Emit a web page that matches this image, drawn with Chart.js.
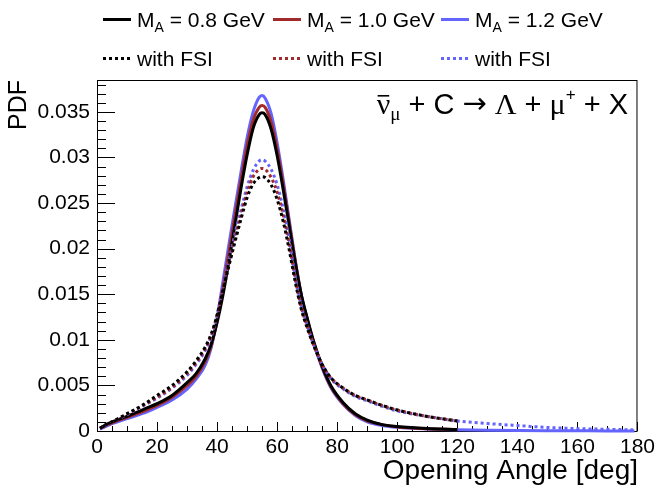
<!DOCTYPE html>
<html><head><meta charset="utf-8">
<script src="https://cdn.jsdelivr.net/npm/chart.js@4/dist/chart.umd.min.js"></script>
<style>html,body{margin:0;padding:0;background:#fff}#c{display:block}</style>
</head><body>
<canvas id="c" width="659" height="489"></canvas>
<script>
// Opening angle [deg]
const angles = [1, 3, 5, 10, 15, 20, 25, 30, 33, 36, 38, 40, 42, 44, 46, 48, 50, 52, 54, 55, 56, 58, 60, 62, 64, 66, 68, 70, 72, 75, 78, 82, 86, 90, 95, 100, 110, 120, 130, 140, 150, 160, 170, 179];
// PDF values, no FSI
const ma08 = [0.0003, 0.0007, 0.0010, 0.0016, 0.0023, 0.0030, 0.0039, 0.0053, 0.0063, 0.0079, 0.0095, 0.0119, 0.0150, 0.0187, 0.0227, 0.0267, 0.0303, 0.0332, 0.0347, 0.0349, 0.0347, 0.0331, 0.0302, 0.0265, 0.0225, 0.0185, 0.0150, 0.0124, 0.0100, 0.0071, 0.0049, 0.0031, 0.0019, 0.0012, 0.0007, 0.0005, 0.00028, 0.00017, null, null, null, null, null, null];
const ma10 = [0.0003, 0.0006, 0.0009, 0.0015, 0.0021, 0.0028, 0.0037, 0.0050, 0.0060, 0.0076, 0.0093, 0.0121, 0.0158, 0.0197, 0.0237, 0.0276, 0.0313, 0.0341, 0.0355, 0.0357, 0.0355, 0.0339, 0.0309, 0.0271, 0.0229, 0.0187, 0.0150, 0.0123, 0.0099, 0.0070, 0.0048, 0.0030, 0.0018, 0.0011, 0.0007, 0.00045, 0.00025, 0.00015, null, null, null, null, null, null];
const ma12 = [0.0002, 0.0005, 0.0008, 0.00135, 0.0019, 0.0026, 0.0034, 0.0046, 0.0057, 0.0072, 0.0091, 0.0124, 0.0165, 0.0206, 0.0246, 0.0285, 0.0322, 0.0350, 0.0366, 0.0368, 0.0365, 0.0348, 0.0316, 0.0276, 0.0232, 0.0188, 0.0150, 0.0122, 0.0098, 0.0069, 0.0047, 0.0029, 0.0017, 0.0010, 0.0006, 0.0004, 0.00022, 0.00013, 0.00008, 0.00005, 0.00003, 0.00002, 0.00001, 0.0];
// PDF values, with FSI
const ma08fsi = [0.0003, 0.0007, 0.0010, 0.0019, 0.0028, 0.0039, 0.0050, 0.0065, 0.0077, 0.0092, 0.0106, 0.0127, 0.0155, 0.0182, 0.0208, 0.0233, 0.0256, 0.0271, 0.0278, 0.0279, 0.0278, 0.0270, 0.0254, 0.0230, 0.0199, 0.0164, 0.0134, 0.0113, 0.0095, 0.0073, 0.0058, 0.0047, 0.0039, 0.0034, 0.0028, 0.0023, 0.0016, 0.0011, null, null, null, null, null, null];
const ma10fsi = [0.0003, 0.0007, 0.0010, 0.00185, 0.00275, 0.0037, 0.0048, 0.0063, 0.0075, 0.0090, 0.0104, 0.0127, 0.0157, 0.0185, 0.0212, 0.0238, 0.0262, 0.0279, 0.0287, 0.0288, 0.0287, 0.0278, 0.0262, 0.0237, 0.0205, 0.0167, 0.0136, 0.0115, 0.0096, 0.0073, 0.0058, 0.0047, 0.0039, 0.0034, 0.0028, 0.0023, 0.0016, 0.0011, null, null, null, null, null, null];
const ma12fsi = [0.0003, 0.0006, 0.0010, 0.0018, 0.0027, 0.0036, 0.0047, 0.0061, 0.0073, 0.0088, 0.0103, 0.0127, 0.0160, 0.0188, 0.0217, 0.0243, 0.0268, 0.0286, 0.0296, 0.02975, 0.0296, 0.0287, 0.0270, 0.0244, 0.0210, 0.0170, 0.0138, 0.0116, 0.0096, 0.0073, 0.0057, 0.0046, 0.0038, 0.0033, 0.0027, 0.0022, 0.0016, 0.0011, 0.00082, 0.00060, 0.00039, 0.00026, 0.00019, 0.00012];
// Axis ticks
const xTicks = [0, 20, 40, 60, 80, 100, 120, 140, 160, 180];
const yTicks = [0, 0.005, 0.01, 0.015, 0.02, 0.025, 0.03, 0.035];
const legendLabels = ['0.8', '1.0', '1.2'];

const BLACK = '#000000', RED = '#a32a2a', BLUE = '#6464ff';
const SANS = '"Liberation Sans", Arial, Helvetica, sans-serif';
const SERIF = '"Liberation Serif", "Times New Roman", serif';

function pts(arr) { return angles.map((a, i) => ({x: a, y: arr[i]})); }
function ds(label, arr, color, dotted) {
  return {
    label, data: pts(arr), borderColor: color, backgroundColor: color,
    borderWidth: 3, borderDash: dotted ? [3, 3] : [], pointRadius: 0,
    cubicInterpolationMode: 'monotone', spanGaps: false, fill: false, clip: 4,
    borderCapStyle: 'butt'
  };
}

const framePlugin = {
  id: 'frame',
  beforeDatasetsDraw(chart) {
    const {ctx, chartArea: a, scales: {x, y}} = chart;
    ctx.save();
    ctx.strokeStyle = '#000';
    ctx.lineWidth = 1;
    ctx.strokeRect(a.left + 0.5, a.top + 0.5, a.right - a.left - 1, a.bottom - a.top);
    ctx.beginPath();
    for (let v = 0; v <= 180; v += 5) {
      const px = Math.round(x.getPixelForValue(v)) + 0.5;
      const len = (v % 20 === 0) ? 9 : 5;
      ctx.moveTo(px, a.bottom); ctx.lineTo(px, a.bottom - len);
    }
    for (let k = 0; k <= 38; k++) {
      const v = k * 0.001;
      const py = Math.round(y.getPixelForValue(v)) + 0.5;
      const len = (k % 5 === 0) ? 18 : 9;
      ctx.moveTo(a.left, py); ctx.lineTo(a.left + len, py);
    }
    ctx.stroke();
    ctx.restore();
  },
  afterDraw(chart) {
    const {ctx, chartArea: a} = chart;
    ctx.save();
    ctx.fillStyle = '#000';
    // Y title
    ctx.save();
    ctx.translate(19, a.top);
    ctx.rotate(-Math.PI / 2);
    ctx.font = '25px ' + SANS;
    ctx.textAlign = 'right';
    ctx.textBaseline = 'middle';
    ctx.fillText('PDF', 0, 0);
    ctx.restore();
    // X title
    ctx.font = '28px ' + SANS;
    ctx.textAlign = 'right';
    ctx.textBaseline = 'alphabetic';
    ctx.fillText('Opening Angle [deg]', 638, 479);

    // Legend
    const colors = [BLACK, RED, BLUE];
    const lx = [103, 273, 441];
    for (let i = 0; i < 3; i++) {
      ctx.strokeStyle = colors[i];
      ctx.lineWidth = 3;
      ctx.setLineDash([]);
      ctx.beginPath(); ctx.moveTo(lx[i], 19.5); ctx.lineTo(lx[i] + 28, 19.5); ctx.stroke();
      ctx.setLineDash([3, 3]);
      ctx.beginPath(); ctx.moveTo(lx[i], 58.5); ctx.lineTo(lx[i] + 28, 58.5); ctx.stroke();
      ctx.setLineDash([]);
      let tx = lx[i] + 34;
      ctx.textAlign = 'left';
      ctx.font = '21px ' + SANS;
      ctx.fillText('M', tx, 27);
      tx += ctx.measureText('M').width;
      ctx.font = '14px ' + SANS;
      ctx.fillText('A', tx, 32);
      tx += ctx.measureText('A').width;
      ctx.font = '21px ' + SANS;
      ctx.fillText(' = ' + legendLabels[i] + ' GeV', tx, 27);
      ctx.fillText('with FSI', lx[i] + 34, 66);
    }

    // Annotation
    const base = 114;
    const parts = [
      {t: 'ν', f: '30px ' + SERIF, dy: 0, bar: true},
      {t: 'μ', f: '19px ' + SERIF, dy: 6},
      {t: ' + C ', f: '29px ' + SANS, dy: 0},
      {t: '→', f: '29px "DejaVu Sans", ' + SERIF, dy: -1},
      {t: ' ', f: '29px ' + SANS, dy: 0},
      {t: 'Λ', f: '30px ' + SERIF, dy: 0},
      {t: ' + ', f: '29px ' + SANS, dy: 0},
      {t: 'μ', f: '30px ' + SERIF, dy: 0},
      {t: '+', f: '17px ' + SANS, dy: -14},
      {t: ' + X', f: '29px ' + SANS, dy: 0}
    ];
    let total = 0;
    parts.forEach(p => { ctx.font = p.f; p.w = ctx.measureText(p.t).width; total += p.w; });
    let ax = 628 - total;
    ctx.textAlign = 'left';
    parts.forEach(p => {
      ctx.font = p.f;
      ctx.fillText(p.t, ax, base + p.dy);
      if (p.bar) {
        ctx.fillRect(ax + 1, base - 19, p.w - 2, 1.6);
      }
      ax += p.w;
    });
    ctx.restore();
  }
};

new Chart(document.getElementById('c'), {
  type: 'line',
  data: {
    datasets: [
      ds('0.8 with FSI', ma08fsi, BLACK, true),
      ds('1.0 with FSI', ma10fsi, RED, true),
      ds('1.2 with FSI', ma12fsi, BLUE, true),
      ds('M_A = 0.8 GeV', ma08, BLACK, false),
      ds('M_A = 1.0 GeV', ma10, RED, false),
      ds('M_A = 1.2 GeV', ma12, BLUE, false)
    ]
  },
  options: {
    responsive: false,
    animation: false,
    layout: {padding: {left: 0, right: 19, top: 80, bottom: 0}},
    plugins: {legend: {display: false}, tooltip: {enabled: false}, title: {display: false}},
    scales: {
      x: {
        type: 'linear', min: 0, max: 180,
        grid: {display: false, drawTicks: false},
        border: {display: false},
        afterBuildTicks(s) { s.ticks = xTicks.map(v => ({value: v})); },
        ticks: {color: '#000', autoSkip: false, maxRotation: 0, padding: 4,
          font: {family: SANS, size: 21}, callback: v => String(v)},
        afterFit(s) { s.height = 58; }
      },
      y: {
        type: 'linear', min: 0, max: 0.0385,
        grid: {display: false, drawTicks: false},
        border: {display: false},
        afterBuildTicks(s) { s.ticks = yTicks.map(v => ({value: v})); },
        ticks: {color: '#000', autoSkip: false, padding: 7,
          font: {family: SANS, size: 21}, callback: v => String(+(+v).toFixed(3))},
        afterFit(s) { s.width = 97; }
      }
    }
  },
  plugins: [framePlugin]
});
</script>
</body></html>
